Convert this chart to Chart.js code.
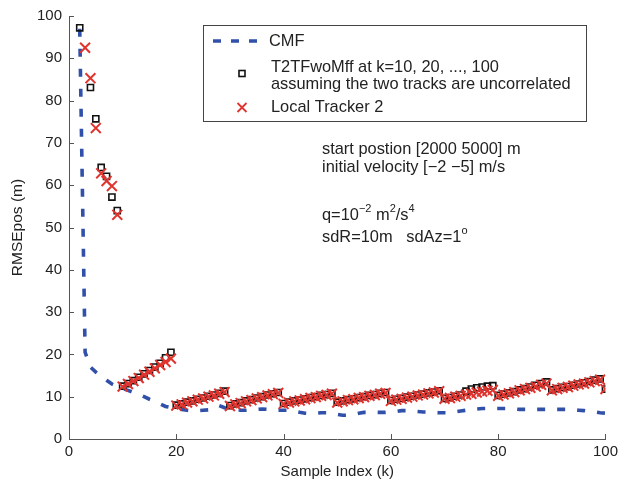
<!DOCTYPE html>
<html>
<head>
<meta charset="utf-8">
<script src="https://cdn.jsdelivr.net/npm/chart.js@4.4.1/dist/chart.umd.min.js"></script>
<style>
  html, body { margin: 0; padding: 0; background: #fff; }
  #wrap { width: 622px; height: 487px; position: relative; }
</style>
</head>
<body>
<div id="wrap"><canvas id="rmseChart"></canvas></div>
<script>
// Sample index k = 1..100 (null = no marker at that k)
const cmfRmse = [
    null, 97.0, 20.5, 17.0, 15.8, 14.8, 13.9, 13.0, 12.4, 11.9,
    11.5, 11.0, 10.6, 10.0, 9.4, 8.9, 8.3, 7.7, 7.4, 7.2,
    7.0, 6.8, 6.7, 6.7, 6.8, 6.9, 7.6, 7.9, 7.4, 7.0,
    6.9, 6.8, 6.8, 6.9, 7.0, 7.1, 7.0, 6.9, 6.8, 6.8,
    6.8, 6.6, 6.3, 6.1, 6.0, 6.1, 6.2, 6.2, 6.0, 5.8,
    5.6, 5.6, 5.8, 6.1, 6.3, 6.3, 6.3, 6.3, 6.3, 6.4,
    6.5, 6.7, 6.7, 6.6, 6.5, 6.4, 6.4, 6.3, 6.2, 6.2,
    6.2, 6.4, 6.6, 6.8, 7.0, 7.1, 7.2, 7.2, 7.2, 7.2,
    7.2, 7.2, 7.1, 7.0, 7.0, 7.0, 7.0, 7.0, 7.0, 7.0,
    7.0, 7.0, 7.0, 6.9, 6.8, 6.7, 6.5, 6.4, 6.2, 6.1
];

const t2tfRmse = [
    null, 97.2, null, 83.1, 75.7, 64.2, 62.1, 57.2, 54.0, 12.5,
    13.1, 13.8, 14.6, 15.4, 16.2, 17.0, 17.9, 19.2, 20.5, 8.0,
    8.3, 8.7, 9.0, 9.4, 9.7, 10.1, 10.4, 10.8, 11.3, 7.9,
    8.3, 8.6, 9.0, 9.3, 9.7, 10.0, 10.4, 10.7, 11.0, 8.4,
    8.7, 9.0, 9.2, 9.5, 9.8, 10.0, 10.3, 10.5, 10.8, 8.7,
    9.0, 9.3, 9.5, 9.8, 10.0, 10.3, 10.5, 10.8, 11.0, 9.1,
    9.4, 9.6, 9.9, 10.1, 10.4, 10.6, 10.9, 11.1, 11.4, 9.6,
    9.8, 10.1, 10.4, 11.3, 11.8, 12.1, 12.3, 12.5, 12.6, 10.3,
    10.6, 10.9, 11.2, 11.6, 11.9, 12.3, 12.7, 13.1, 13.5, 11.6,
    11.9, 12.2, 12.4, 12.7, 13.0, 13.3, 13.6, 13.9, 14.2, 11.8
];

const trackerRmse = [
    null, null, 92.5, 85.3, 73.5, 62.8, 61.0, 59.8, 53.0, 12.4,
    13.0, 13.7, 14.4, 15.2, 15.9, 16.7, 17.5, 18.2, 19.0, 7.9,
    8.2, 8.6, 8.9, 9.3, 9.6, 10.0, 10.3, 10.7, 11.1, 7.8,
    8.2, 8.5, 8.9, 9.2, 9.6, 9.9, 10.3, 10.6, 10.9, 8.3,
    8.6, 8.9, 9.1, 9.4, 9.7, 9.9, 10.2, 10.4, 10.7, 8.6,
    8.9, 9.2, 9.4, 9.7, 9.9, 10.2, 10.4, 10.7, 10.9, 9.0,
    9.3, 9.5, 9.8, 10.0, 10.3, 10.5, 10.8, 11.0, 11.3, 9.5,
    9.7, 10.0, 10.2, 10.5, 10.7, 11.0, 11.2, 11.4, 11.6, 10.2,
    10.5, 10.8, 11.1, 11.5, 11.8, 12.1, 12.4, 12.8, 13.1, 11.5,
    11.8, 12.1, 12.3, 12.6, 12.9, 13.1, 13.4, 13.7, 14.0, 11.8
];

const xTicks = [0, 20, 40, 60, 80, 100];
const yTicks = [0, 10, 20, 30, 40, 50, 60, 70, 80, 90, 100];

const legendLabels = ['CMF', 'T2TFwoMff at k=10, 20, ..., 100', 'assuming the two tracks are uncorrelated', 'Local Tracker 2'];
const noteLines = ['start postion [2000 5000] m', 'initial velocity [\u22122 \u22125] m/s'];

const FONT = '"Liberation Sans", Arial, Helvetica, sans-serif';
const CMF_BLUE = '#3050aa';
const TRACK_RED = '#e0342f';

function toPoints(values) {
    const pts = [];
    values.forEach((v, i) => {
        if (v !== null) pts.push({ x: i + 1, y: v });
    });
    return pts;
}

// Draws white background, inner tick marks, the boxed legend and the text notes
const decorPlugin = {
    id: 'decor',
    beforeDraw(chart) {
        const ctx = chart.ctx;
        ctx.save();
        ctx.fillStyle = '#fff';
        ctx.fillRect(0, 0, chart.width, chart.height);
        ctx.restore();
    },
    afterDraw(chart) {
        const ctx = chart.ctx;
        const area = chart.chartArea;
        const xs = chart.scales.x;
        const ys = chart.scales.y;

        // tick marks pointing inward (MATLAB style)
        ctx.save();
        ctx.strokeStyle = '#555';
        ctx.lineWidth = 1;
        ctx.beginPath();
        xTicks.forEach(t => {
            const px = Math.round(xs.getPixelForValue(t)) + 0.5;
            ctx.moveTo(px, area.bottom);
            ctx.lineTo(px, area.bottom - 5);
        });
        yTicks.forEach(t => {
            const py = Math.round(ys.getPixelForValue(t)) + 0.5;
            ctx.moveTo(area.left, py);
            ctx.lineTo(area.left + 5, py);
        });
        ctx.stroke();
        ctx.restore();

        // legend box
        ctx.save();
        ctx.fillStyle = '#fff';
        ctx.fillRect(203, 25, 383, 96);
        ctx.strokeStyle = '#444';
        ctx.lineWidth = 1;
        ctx.strokeRect(203.5, 25.5, 383, 96);

        ctx.strokeStyle = CMF_BLUE;
        ctx.lineWidth = 3.5;
        ctx.setLineDash([8, 10]);
        ctx.beginPath();
        ctx.moveTo(213, 41);
        ctx.lineTo(262, 41);
        ctx.stroke();
        ctx.setLineDash([]);

        ctx.strokeStyle = '#111';
        ctx.lineWidth = 1.6;
        ctx.strokeRect(239, 70.5, 6, 6);

        ctx.strokeStyle = TRACK_RED;
        ctx.lineWidth = 1.8;
        ctx.beginPath();
        ctx.moveTo(237.5, 103);
        ctx.lineTo(246.5, 112);
        ctx.moveTo(246.5, 103);
        ctx.lineTo(237.5, 112);
        ctx.stroke();

        ctx.fillStyle = '#222';
        ctx.font = '16.4px ' + FONT;
        ctx.textBaseline = 'middle';
        ctx.textAlign = 'left';
        ctx.fillText(legendLabels[0], 269, 41);
        ctx.fillText(legendLabels[1], 271, 67);
        ctx.fillText(legendLabels[2], 271, 84);
        ctx.fillText(legendLabels[3], 271, 107);

        // notes
        ctx.fillText(noteLines[0], 322, 149);
        ctx.fillText(noteLines[1], 322, 167);

        const drawRich = (parts, x, y) => {
            parts.forEach(p => {
                ctx.font = (p.sup ? '11px ' : '16.4px ') + FONT;
                ctx.fillText(p.t, x, p.sup ? y - 6 : y);
                x += ctx.measureText(p.t).width;
            });
        };
        drawRich([
            { t: 'q=10' }, { t: '\u22122', sup: true }, { t: ' m' }, { t: '2', sup: true },
            { t: '/s' }, { t: '4', sup: true }
        ], 322, 215);
        drawRich([{ t: 'sdR=10m   sdAz=1' }, { t: 'o', sup: true }], 322, 237);
        ctx.restore();
    }
};

new Chart(document.getElementById('rmseChart'), {
    type: 'scatter',
    data: {
        datasets: [
            {
                label: 'CMF',
                type: 'line',
                data: toPoints(cmfRmse),
                borderColor: CMF_BLUE,
                borderWidth: 3.6,
                borderDash: [8, 12],
                pointRadius: 0,
                fill: false,
                tension: 0,
                order: 3
            },
            {
                label: 'T2TFwoMff',
                data: toPoints(t2tfRmse),
                pointStyle: 'rect',
                pointRadius: 4.3,
                borderColor: '#111',
                backgroundColor: 'rgba(0,0,0,0)',
                borderWidth: 1.6,
                order: 2
            },
            {
                label: 'Local Tracker 2',
                data: toPoints(trackerRmse),
                pointStyle: 'crossRot',
                pointRadius: 7,
                borderColor: TRACK_RED,
                backgroundColor: TRACK_RED,
                borderWidth: 2,
                order: 1
            }
        ]
    },
    options: {
        responsive: true,
        maintainAspectRatio: false,
        animation: false,
        layout: { padding: { left: 0, top: 14, right: 14, bottom: 0 } },
        plugins: {
            legend: { display: false },
            tooltip: { enabled: false }
        },
        scales: {
            x: {
                type: 'linear',
                min: 0,
                max: 100,
                afterFit: scale => { scale.height = 48; },
                afterBuildTicks: scale => { scale.ticks = xTicks.map(v => ({ value: v })); },
                grid: { drawOnChartArea: false, drawTicks: false },
                border: { display: true, color: '#555', width: 1 },
                ticks: { color: '#222', padding: 4, font: { family: FONT, size: 15 } },
                title: {
                    display: true,
                    text: 'Sample Index (k)',
                    color: '#222',
                    font: { family: FONT, size: 15 },
                    padding: { top: 8, bottom: 6 }
                }
            },
            y: {
                min: 0,
                max: 100,
                afterFit: scale => { scale.width = 69; },
                afterBuildTicks: scale => { scale.ticks = yTicks.map(v => ({ value: v })); },
                grid: { drawOnChartArea: false, drawTicks: false },
                border: { display: true, color: '#555', width: 1 },
                ticks: { color: '#222', padding: 7, font: { family: FONT, size: 15 } },
                title: {
                    display: true,
                    text: 'RMSEpos (m)',
                    color: '#222',
                    font: { family: FONT, size: 15.5 },
                    padding: { top: 8, bottom: 0 }
                }
            }
        }
    },
    plugins: [decorPlugin]
});
</script>
</body>
</html>
